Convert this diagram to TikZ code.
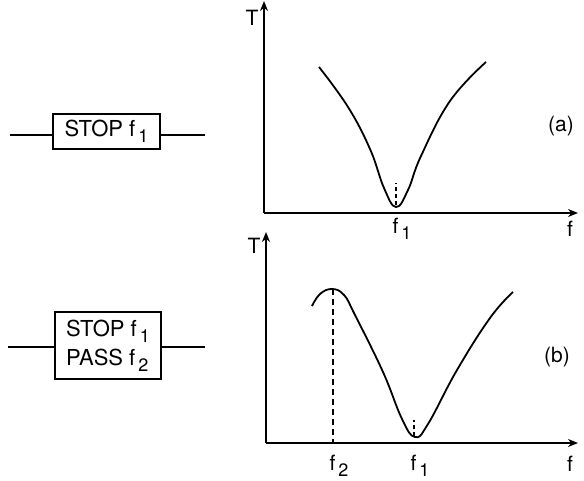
\documentclass[tikz,border=0pt]{standalone}
\usepackage{fontspec}
\setmainfont{TeX Gyre Heros}
\usepackage{tikz}
\usetikzlibrary{arrows.meta,positioning,calc}
\newcommand{\lo}[1]{\kern3pt\raisebox{-0.55ex}{\fontsize{18}{20}\selectfont #1}}

\begin{document}
\begin{tikzpicture}[x=1pt,y=-1pt,
        filterbox/.style={rectangle, draw, line width=1.6pt, inner sep=3pt, align=left, font=\fontsize{22}{26}\selectfont},
        wire/.style={line width=1.6pt},
        axis/.style={-{Stealth[length=10pt,width=8pt]}, line width=2pt},
        curve/.style={line width=1.8pt, smooth, tension=0.7},
        guide/.style={line width=1.3pt, dash pattern=on 6pt off 4pt},
        lbl/.style={font=\fontsize{21}{23}\selectfont, inner sep=0pt}]

        \useasboundingbox (0,0) rectangle (584,480);

        % filter blocks
        \node[filterbox, minimum width=107pt, minimum height=35pt] (stop) at (106.5,131.5) {STOP f\lo{1}};
        \node[filterbox, minimum width=106pt, minimum height=67pt] (stoppass) at (108,345.5) {STOP f\lo{1}\\[3pt]PASS f\lo{2}};
        \coordinate (inA) at (10,135);
        \coordinate (outA) at (205,135);
        \coordinate (inB) at (8,347);
        \coordinate (outB) at (205,347);
        \draw[wire] (inA) -- (inA -| stop.west);
        \draw[wire] (stop.east |- outA) -- (outA);
        \draw[wire] (inB) -- (inB -| stoppass.west);
        \draw[wire] (stoppass.east |- outB) -- (outB);

        % (a) response
        \coordinate (oa) at (264,213);
        \coordinate (ya) at (264,1);
        \coordinate (xa) at (578,213);
        \draw[axis] (oa) -- (ya);
        \draw[axis] (oa) -- (xa);
        \node[lbl] (ta) at (252,18) {T};
        \node[lbl] (fa) at (570,229) {f};
        \draw[curve] plot coordinates {(319,67) (348,107) (370,149) (384,188) (396,207) (408,190) (421,156) (450,101) (486,62)};
        \coordinate (mina) at (396,205);
        \draw[guide, dash pattern=on 4pt off 3pt] (mina) -- ++(0,-22);
        \node[lbl] (f1a) at (402,229) {f\lo{1}};
        \node[lbl] (capa) at (561,126) {(a)};

        % (b) response
        \coordinate (ob) at (266,443);
        \coordinate (yb) at (266,232);
        \coordinate (xb) at (578,443);
        \draw[axis] (ob) -- (yb);
        \draw[axis] (ob) -- (xb);
        \node[lbl] (tb) at (254,246) {T};
        \node[lbl] (fb) at (570,464) {f};
        \draw[curve] plot coordinates {(312,306) (320,294) (332,289) (344,295) (355,315) (383,372) (402,419) (415,437) (428,424) (457,370) (490,318) (513,292)};
        \coordinate (peak) at (333,289);
        \draw[guide] (peak) -- (peak |- ob);
        \coordinate (minb) at (414,436);
        \draw[guide, dash pattern=on 4pt off 3pt] (minb) -- ++(0,-16);
        \node[lbl] (f2b) at (339,466) {f\lo{2}};
        \node[lbl] (f1b) at (420,466) {f\lo{1}};
        \node[lbl] (capb) at (557,357) {(b)};

    \end{tikzpicture}
\end{document}
